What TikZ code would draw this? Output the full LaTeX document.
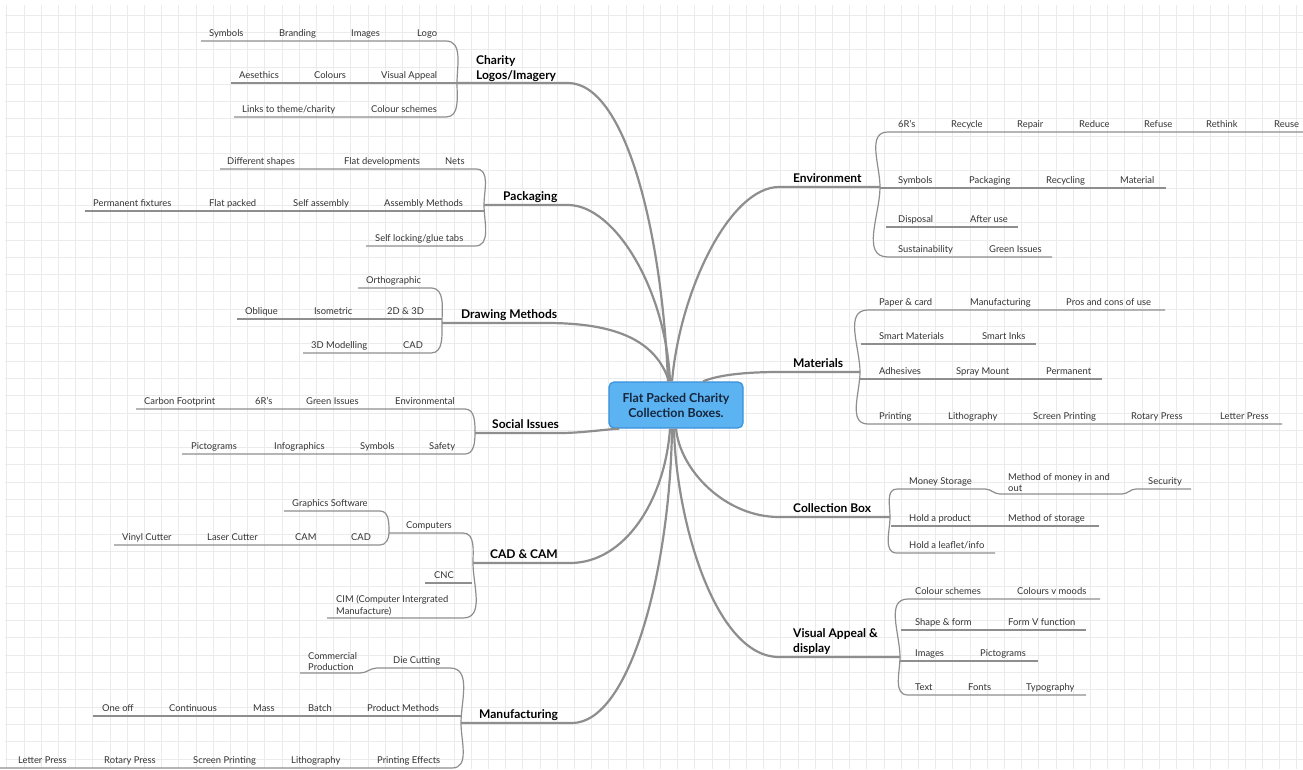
\documentclass[tikz,border=0pt]{standalone}
\usepackage{fontspec}
\setmainfont{Lato}
\definecolor{gridgray}{HTML}{EBEBEB}
\definecolor{linegray}{HTML}{8E8E8E}
\definecolor{inkgray}{HTML}{333333}
\definecolor{hubfill}{HTML}{5CB3F2}
\definecolor{hubedge}{HTML}{3A91DB}
\definecolor{hubink}{HTML}{15263D}

\begin{document}
\begin{tikzpicture}[x=1pt,y=-1pt,
  gridline/.style={draw=gridgray,line width=0.8pt},
  leaf/.style={anchor=base west,inner sep=0pt,yshift=4.5pt,text=inkgray,font=\fontsize{9.4}{12}\selectfont},
  leaftwo/.style={anchor=north west,inner sep=0pt,align=left,text=inkgray,font=\fontsize{9.4}{11.5}\selectfont},
  topic/.style={anchor=base west,inner sep=0pt,yshift=5pt,font=\fontsize{12}{15}\selectfont\bfseries},
  topictwo/.style={anchor=north west,inner sep=0pt,align=left,font=\fontsize{12}{15}\selectfont\bfseries},
  hub/.style={draw=hubedge,fill=hubfill,line width=1.2pt,rounded corners=5pt,minimum width=134pt,
    minimum height=46pt,align=center,text=hubink,font=\fontsize{12.4}{15}\selectfont\bfseries},
  twig/.style={draw=linegray,line width=1.2pt},
  limb/.style={draw=linegray,line width=2.2pt}]
\useasboundingbox (0,0) rectangle (1303,769);
\fill[white] (0,0) rectangle (1303,769);
\foreach \i in {0,...,75} \draw[gridline] ({6.7+17.2*\i},5) -- ({6.7+17.2*\i},769);
\foreach \j in {0,...,44} \draw[gridline] (5,{15+17.3*\j}) -- (1303,{15+17.3*\j});

\node[hub] (hub) at (676,405) {Flat Packed Charity\\Collection Boxes.};

% left side
\node[topictwo] (logo) at (476,55) {Charity\\Logos/Imagery};
\draw[limb] ([xshift=-8pt]hub.north) .. controls (662,230) and (625,83) .. (568,83) -- (457,83);
\draw[twig] (201,41) -- (446,41) to[out=0,in=90] (457,83) to[out=-90,in=0] (446,117) -- (234,117);
\draw[twig] (231,83) -- (457,83);
\foreach \t/\x [count=\i] in {Symbols/209,Branding/279,Images/351,Logo/417}
  \node[leaf] (logoA-\i) at (\x,41) {\t};
\foreach \t/\x [count=\i] in {Aesethics/239,Colours/314,Visual Appeal/381}
  \node[leaf] (logoB-\i) at (\x,83) {\t};
\foreach \t/\x [count=\i] in {{Links to theme/charity}/242,Colour schemes/371}
  \node[leaf] (logoC-\i) at (\x,117) {\t};

\node[topic] (pack) at (503,205) {Packaging};
\draw[limb] ([xshift=-6pt]hub.north) .. controls (666,290) and (615,205) .. (568,205) -- (484,205);
\draw[twig] (220,169) -- (476,169) to[out=0,in=90] (484,205) to[out=-90,in=0] (475,246) -- (366,246);
\draw[twig] (85,211) -- (484,211);
\foreach \t/\x [count=\i] in {Different shapes/227,Flat developments/344,Nets/445}
  \node[leaf] (packA-\i) at (\x,169) {\t};
\foreach \t/\x [count=\i] in {Permanent fixtures/93,Flat packed/209,Self assembly/293,Assembly Methods/384}
  \node[leaf] (packB-\i) at (\x,211) {\t};
\node[leaf] (packC-1) at (375,246) {Self locking/glue tabs};

\node[topic] (drawm) at (461,323) {Drawing Methods};
\draw[limb] ([xshift=-7pt]hub.north) .. controls (656,340) and (615,323) .. (547,323) -- (442,323);
\draw[twig] (358,288) -- (431,288) to[out=0,in=90] (442,323) to[out=-90,in=0] (431,353) -- (303,353);
\draw[twig] (237,319) -- (442,319);
\node[leaf] (drawmA-1) at (366,288) {Orthographic};
\foreach \t/\x [count=\i] in {Oblique/245,Isometric/314,2D \& 3D/387}
  \node[leaf] (drawmB-\i) at (\x,319) {\t};
\foreach \t/\x [count=\i] in {3D Modelling/311,CAD/403}
  \node[leaf] (drawmC-\i) at (\x,353) {\t};

\node[topic] (soc) at (492,433) {Social Issues};
\draw[limb] ([xshift=11pt]hub.south west) .. controls (600,430) and (580,433) .. (560,433) -- (475,433);
\draw[twig] (136,409) -- (465,409) to[out=0,in=90] (475,433) to[out=-90,in=0] (465,454) -- (182,454);
\foreach \t/\x [count=\i] in {Carbon Footprint/144,6R's/255,Green Issues/306,Environmental/395}
  \node[leaf] (socA-\i) at (\x,409) {\t};
\foreach \t/\x [count=\i] in {Pictograms/191,Infographics/274,Symbols/360,Safety/429}
  \node[leaf] (socB-\i) at (\x,454) {\t};

\node[topic] (cadcam) at (490,563) {CAD \& CAM};
\draw[limb] ([xshift=-6pt]hub.south) .. controls (665,500) and (625,563) .. (570,563) -- (473,563);
\draw[twig] (389,533) -- (463,533) to[out=0,in=90] (473,563) to[out=-90,in=0] (463,618) -- (327,618);
\draw[twig] (425,583) -- (472,583);
\draw[twig] (284,511) -- (380,511) to[out=0,in=90] (389,533) to[out=-90,in=0] (380,545) -- (114,545);
\node[leaf] (cadcamA-1) at (406,533) {Computers};
\node[leaf] (cadcamA-2) at (292,511) {Graphics Software};
\foreach \t/\x [count=\i] in {Vinyl Cutter/122,Laser Cutter/207,CAM/295,CAD/351}
  \node[leaf] (cadcamB-\i) at (\x,545) {\t};
\node[leaf] (cadcamC-1) at (434,583) {CNC};
\node[leaftwo] (cadcamD-1) at (336,595) {CIM (Computer Intergrated\\Manufacture)};

\node[topic] (manu) at (479,723) {Manufacturing};
\draw[limb] ([xshift=-4pt]hub.south) .. controls (670,570) and (630,723) .. (572,723) -- (461,723);
\draw[twig] (300,673) -- (360,673) to[out=0,in=180] (377,668) -- (450,668) to[out=0,in=90] (461,723)
  to[out=-90,in=0] (452,768) -- (0,768);
\draw[twig] (93,716) -- (461,716);
\node[leaf] (manuA-1) at (393,668) {Die Cutting};
\node[leaftwo] (manuA-2) at (308,652) {Commercial\\Production};
\foreach \t/\x [count=\i] in {One off/102,Continuous/169,Mass/253,Batch/308,Product Methods/367}
  \node[leaf] (manuB-\i) at (\x,716) {\t};
\foreach \t/\x [count=\i] in {Letter Press/18,Rotary Press/104,Screen Printing/193,Lithography/291,Printing Effects/377}
  \node[leaf] (manuC-\i) at (\x,768) {\t};

% right side
\node[topic] (env) at (793,187) {Environment};
\draw[limb] ([xshift=-4pt]hub.north) .. controls (680,290) and (730,187) .. (779,187) -- (880,187);
\draw[twig] (1303,132) -- (888,132) to[out=180,in=90] (880,187) to[out=-90,in=180] (888,257) -- (1052,257);
\draw[twig] (880,188) -- (1166,188);
\draw[twig] (886,227) -- (1018,227);
\foreach \t/\x [count=\i] in {6R's/898,Recycle/951,Repair/1017,Reduce/1079,Refuse/1144,Rethink/1206,Reuse/1274}
  \node[leaf] (envA-\i) at (\x,132) {\t};
\foreach \t/\x [count=\i] in {Symbols/898,Packaging/969,Recycling/1046,Material/1120}
  \node[leaf] (envB-\i) at (\x,188) {\t};
\foreach \t/\x [count=\i] in {Disposal/898,After use/970}
  \node[leaf] (envC-\i) at (\x,227) {\t};
\foreach \t/\x [count=\i] in {Sustainability/898,Green Issues/989}
  \node[leaf] (envD-\i) at (\x,257) {\t};

\node[topic] (mat) at (793,372) {Materials};
\draw[limb] ([xshift=27pt]hub.north) .. controls (718,375) and (745,372) .. (779,372) -- (860,372);
\draw[twig] (1165,310) -- (868,310) to[out=180,in=90] (860,372) to[out=-90,in=180] (868,424) -- (1282,424);
\draw[twig] (861,344) -- (1036,344);
\draw[twig] (860,379) -- (1102,379);
\foreach \t/\x [count=\i] in {Paper \& card/879,Manufacturing/970,Pros and cons of use/1066}
  \node[leaf] (matA-\i) at (\x,310) {\t};
\foreach \t/\x [count=\i] in {Smart Materials/879,Smart Inks/982}
  \node[leaf] (matB-\i) at (\x,344) {\t};
\foreach \t/\x [count=\i] in {Adhesives/879,Spray Mount/956,Permanent/1046}
  \node[leaf] (matC-\i) at (\x,379) {\t};
\foreach \t/\x [count=\i] in {Printing/879,Lithography/948,Screen Printing/1033,Rotary Press/1131,Letter Press/1220}
  \node[leaf] (matD-\i) at (\x,424) {\t};

\node[topic] (box) at (793,517) {Collection Box};
\draw[limb] ([xshift=0pt]hub.south) .. controls (680,470) and (725,517) .. (779,517) -- (890,517);
\draw[twig] (1191,489) -- (1136,489) to[out=180,in=0] (1122,494) -- (1000,494) to[out=180,in=0] (985,489)
  -- (897,489) to[out=180,in=90] (890,517) to[out=-90,in=180] (897,553) -- (995,553);
\draw[twig] (891,526) -- (1099,526);
\node[leaf] (boxA-1) at (909,489) {Money Storage};
\node[leaftwo] (boxA-2) at (1008,473) {Method of money in and\\out};
\node[leaf] (boxA-3) at (1148,489) {Security};
\foreach \t/\x [count=\i] in {Hold a product/909,Method of storage/1008}
  \node[leaf] (boxB-\i) at (\x,526) {\t};
\node[leaf] (boxC-1) at (909,553) {Hold a leaflet/info};

\node[topictwo] (look) at (793,628) {Visual Appeal \&\\display};
\draw[limb] ([xshift=-2pt]hub.south) .. controls (676,520) and (715,657) .. (779,657) -- (900,657);
\draw[twig] (1100,599) -- (908,599) to[out=180,in=90] (900,657) to[out=-90,in=180] (908,695) -- (1086,695);
\draw[twig] (901,630) -- (1086,630);
\draw[twig] (900,661) -- (1038,661);
\foreach \t/\x [count=\i] in {Colour schemes/915,Colours v moods/1017}
  \node[leaf] (lookA-\i) at (\x,599) {\t};
\foreach \t/\x [count=\i] in {Shape \& form/915,Form V function/1008}
  \node[leaf] (lookB-\i) at (\x,630) {\t};
\foreach \t/\x [count=\i] in {Images/915,Pictograms/980}
  \node[leaf] (lookC-\i) at (\x,661) {\t};
\foreach \t/\x [count=\i] in {Text/915,Fonts/968,Typography/1026}
  \node[leaf] (lookD-\i) at (\x,695) {\t};
\end{tikzpicture}
\end{document}
